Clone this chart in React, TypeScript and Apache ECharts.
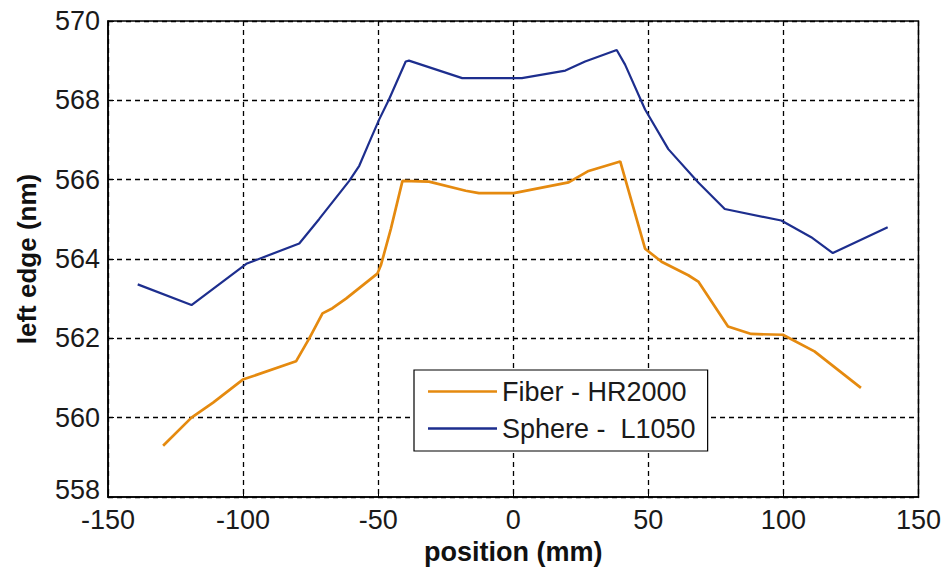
import React, { useEffect, useRef } from "react";
import * as echarts from "echarts";

const xTicks = [-150, -100, -50, 0, 50, 100, 150];
const yTicks = [558, 560, 562, 564, 566, 568, 570];

const sphereName = "Sphere -  L1050";
const sphereX = [-139, -119.1, -98.8, -79.2, -71.8, -60.7, -57, -53.3, -49.6, -46, -39.8, -38.6, -18.9, 3.2, 19.3, 26.6, 38.3, 41.4, 48.8, 57.4, 68.5, 78.3, 99.2, 110.3, 118.3, 138.6];
const sphereY = [563.36, 562.84, 563.88, 564.39, 565.01, 565.97, 566.35, 566.94, 567.52, 568.02, 568.98, 569.0, 568.56, 568.56, 568.75, 568.98, 569.27, 568.9, 567.77, 566.77, 565.93, 565.26, 564.97, 564.55, 564.15, 564.8];

const fiberName = "Fiber - HR2000";
const fiberX = [-129.6, -119.1, -111.1, -100.1, -80.4, -75.5, -70.6, -66.9, -61.9, -50.3, -49, -45.3, -41, -31.2, -17.6, -12.7, 0.2, 20.5, 27.9, 39.6, 48.8, 54.9, 64.8, 68.5, 79.5, 88.1, 99.8, 111.5, 128.7];
const fiberY = [559.29, 560.0, 560.38, 560.96, 561.42, 562.0, 562.63, 562.76, 563.0, 563.63, 563.84, 564.76, 565.97, 565.95, 565.72, 565.66, 565.66, 565.93, 566.22, 566.46, 564.26, 563.93, 563.59, 563.43, 562.3, 562.11, 562.09, 561.67, 560.75];

const zip = (xs: number[], ys: number[]) => xs.map((x, i) => [x, ys[i]]);

export default function App() {
  const ref = useRef<HTMLDivElement>(null);
  useEffect(() => {
    if (!ref.current) return;
    const chart = echarts.init(ref.current, null, { renderer: "svg" });
    const font = "Liberation Sans, Arial, sans-serif";
    const gridLine = { show: true, lineStyle: { color: "#000", type: [5, 4], width: 1.3 } };
    chart.setOption({
      animation: false,
      backgroundColor: "#fff",
      textStyle: { fontFamily: font },
      grid: {
        left: 108,
        right: 23,
        top: 21,
        bottom: 70,
        show: true,
        borderColor: "#000",
        borderWidth: 1.5,
        backgroundColor: "transparent",
      },
      xAxis: {
        type: "value",
        min: xTicks[0],
        max: xTicks[xTicks.length - 1],
        interval: 50,
        name: "position (mm)",
        nameLocation: "middle",
        nameGap: 41,
        nameTextStyle: { fontSize: 27, fontWeight: "bold", color: "#111", fontFamily: font },
        axisLine: { show: true, onZero: false, lineStyle: { color: "#000", width: 1.5 } },
        axisTick: { show: true, inside: true, length: 6, lineStyle: { color: "#000" } },
        axisLabel: { fontSize: 27, color: "#1a1a1a", margin: 9, fontFamily: font },
        splitLine: gridLine,
      },
      yAxis: {
        type: "value",
        min: yTicks[0],
        max: yTicks[yTicks.length - 1],
        interval: 2,
        name: "left edge (nm)",
        nameLocation: "middle",
        nameGap: 68,
        nameTextStyle: { fontSize: 26, fontWeight: "bold", color: "#111", fontFamily: font },
        axisLine: { show: true, onZero: false, lineStyle: { color: "#000", width: 1.5 } },
        axisTick: { show: true, inside: true, length: 6, lineStyle: { color: "#000" } },
        axisLabel: {
          fontSize: 27,
          color: "#1a1a1a",
          margin: 8,
          fontFamily: font,
          formatter: (v: number) => (v === yTicks[0] ? "{low|" + v + "}" : String(v)),
          rich: {
            low: { fontSize: 27, color: "#1a1a1a", fontFamily: font, padding: [0, 0, 14, 0] },
          },
        },
        splitLine: gridLine,
      },
      legend: {
        orient: "vertical",
        left: 414,
        top: 370,
        backgroundColor: "#fff",
        borderColor: "#000",
        borderWidth: 1.2,
        borderRadius: 0,
        padding: [8, 12, 9, 14],
        itemGap: 10,
        itemWidth: 69,
        itemHeight: 27,
        icon: "path://M0,13 L69,13 L69,15.5 L0,15.5 Z",
        textStyle: { fontSize: 27, color: "#1a1a1a", fontFamily: font },
        data: [fiberName, sphereName],
      },
      series: [
        {
          name: fiberName,
          type: "line",
          data: zip(fiberX, fiberY),
          symbol: "none",
          lineStyle: { color: "#E58A0F", width: 2.7 },
          itemStyle: { color: "#E58A0F" },
          z: 3,
        },
        {
          name: sphereName,
          type: "line",
          data: zip(sphereX, sphereY),
          symbol: "none",
          lineStyle: { color: "#1D2E8E", width: 2.2 },
          itemStyle: { color: "#1D2E8E" },
          z: 3,
        },
      ],
    });
    return () => chart.dispose();
  }, []);
  return (
    <div
      ref={ref}
      style={{ position: "fixed", left: 0, top: 0, width: 944, height: 570 }}
    />
  );
}
